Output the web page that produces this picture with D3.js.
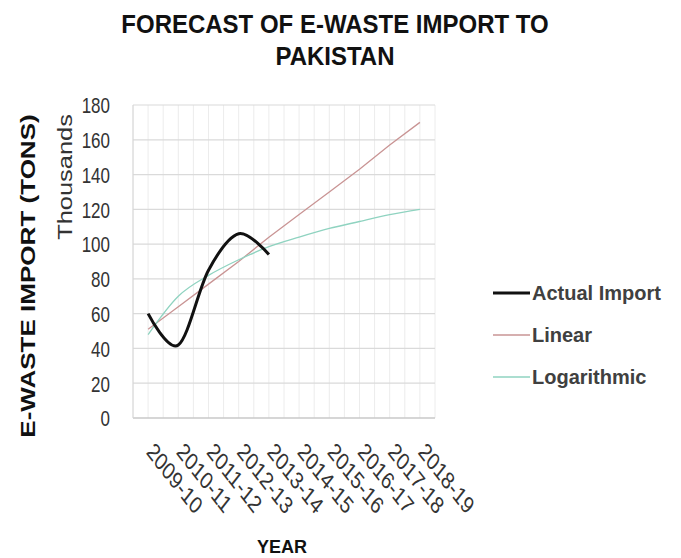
<!DOCTYPE html>
<html><head><meta charset="utf-8">
<script src="https://cdn.jsdelivr.net/npm/d3@7/dist/d3.min.js"></script>
<style>body{margin:0;background:#fff}</style>
</head><body>
<svg id="c" width="681" height="558"></svg>
<script>
const categories = ["2009-10","2010-11","2011-12","2012-13","2013-14","2014-15","2015-16","2016-17","2017-18","2018-19"];
const actualImport = [60, 42, 85, 106, 94];
const linearTrend = [51, 64, 77, 90, 104, 117, 130, 143, 157, 170];
const logTrend = [48, 70, 82, 91, 98.5, 104, 109, 113, 117, 120];
const yTicks = [0,20,40,60,80,100,120,140,160,180];
const seriesNames = ["Actual Import","Linear","Logarithmic"];
const seriesColors = ["#111","#c99494","#8fd3c0"];
const seriesWidths = [3,1.3,1.3];

const F = "'Liberation Sans',Arial,sans-serif";
const SY = 1.27; // vertical stretch of the source image
const svg = d3.select("#c");
const L=133, R=435, T=105, B=418;
const x = d3.scaleBand().domain(categories).range([L,R]);
const y = d3.scaleLinear().domain([0,180]).range([B,T]);
const cx = d => x(d)+x.bandwidth()/2;

// vertical minor gridlines
const vg = [];
categories.forEach(c=>{vg.push(x(c)); vg.push(cx(c));});
vg.push(R);
svg.append("g").selectAll("line").data(vg).join("line")
  .attr("x1",d=>d).attr("x2",d=>d).attr("y1",T).attr("y2",B)
  .attr("stroke","#ececec").attr("stroke-width",1);
// horizontal gridlines
svg.append("g").selectAll("line").data(yTicks).join("line")
  .attr("x1",L).attr("x2",R).attr("y1",d=>y(d)).attr("y2",d=>y(d))
  .attr("stroke",d=>d===0?"#c8c8c8":"#dadada").attr("stroke-width",d=>d===0?1.5:1.2);
svg.append("line").attr("x1",L).attr("x2",L).attr("y1",T).attr("y2",B).attr("stroke","#d6d6d6");

// y axis labels
const yAxis = d3.axisLeft(y).tickValues(yTicks).tickSize(0).tickPadding(0);
const gy = svg.append("g").attr("transform",`translate(110,0)`).call(yAxis);
gy.select(".domain").remove();
gy.selectAll("text").attr("font-family",F).attr("font-size",17).attr("fill","#333")
  .attr("x",0).attr("y",0).attr("dy","0.36em").attr("transform",`scale(1,${SY})`);

// x axis labels
const xAxis = d3.axisBottom(x).tickSize(0);
const gx = svg.append("g").attr("transform",`translate(0,${B})`).call(xAxis);
gx.select(".domain").remove();
gx.selectAll("text").attr("font-family",F).attr("font-size",19).attr("fill","#333")
  .attr("text-anchor","start").attr("dy","0.35em").attr("x",0).attr("y",0)
  .attr("transform",`translate(2,29) scale(1,${SY}) rotate(45)`);

// lines
const line = d3.line().x((d,i)=>cx(categories[i])).y(d=>y(d));
svg.append("path").datum(linearTrend).attr("d",line).attr("fill","none")
  .attr("stroke",seriesColors[1]).attr("stroke-width",seriesWidths[1]);
svg.append("path").datum(logTrend).attr("d",d3.line().x((d,i)=>cx(categories[i])).y(d=>y(d)).curve(d3.curveMonotoneX)).attr("fill","none")
  .attr("stroke",seriesColors[2]).attr("stroke-width",seriesWidths[2]);
svg.append("path").datum(actualImport).attr("d",d3.line().x((d,i)=>cx(categories[i])).y(d=>y(d)).curve(d3.curveCatmullRom.alpha(0))).attr("fill","none")
  .attr("stroke",seriesColors[0]).attr("stroke-width",seriesWidths[0]);

// titles
svg.append("text").attr("transform","translate(335,33) scale(1,1.05)").attr("text-anchor","middle")
  .attr("font-family",F).attr("font-weight","bold").attr("font-size",24).attr("fill","#111")
  .text("FORECAST OF E-WASTE IMPORT TO");
svg.append("text").attr("transform","translate(335,65) scale(1,1.05)").attr("text-anchor","middle")
  .attr("font-family",F).attr("font-weight","bold").attr("font-size",24).attr("fill","#111")
  .text("PAKISTAN");
svg.append("text").attr("transform",`translate(72,177) scale(1,${SY}) rotate(-90)`).attr("text-anchor","middle")
  .attr("font-family",F).attr("font-size",20).attr("fill","#333").text("Thousands");
svg.append("text").attr("transform",`translate(35,276) scale(1,${SY}) rotate(-90)`).attr("text-anchor","middle")
  .attr("font-family",F).attr("font-weight","bold").attr("font-size",20.5).attr("fill","#111")
  .text("E-WASTE IMPORT (TONS)");
svg.append("text").attr("x",282).attr("y",553).attr("text-anchor","middle")
  .attr("font-family",F).attr("font-weight","bold").attr("font-size",18).attr("fill","#111").text("YEAR");

// legend
const lg = svg.append("g");
seriesNames.forEach((n,i)=>{
  const yy = 293 + i*42;
  lg.append("line").attr("x1",493).attr("x2",530).attr("y1",yy).attr("y2",yy)
    .attr("stroke",seriesColors[i]).attr("stroke-width",seriesWidths[i]);
  lg.append("text").attr("x",532).attr("y",yy).attr("dy","0.36em")
    .attr("font-family",F).attr("font-weight","bold").attr("font-size",20).attr("fill","#404040").text(n);
});
</script>
</body></html>
